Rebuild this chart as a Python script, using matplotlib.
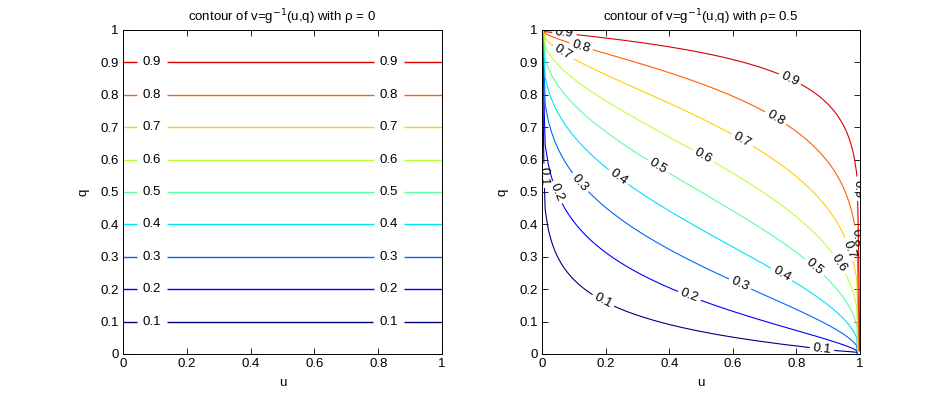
import numpy as np
import matplotlib
matplotlib.use("Agg")
import matplotlib.pyplot as plt
from statistics import NormalDist

plt.rcParams['font.family'] = ['Liberation Sans', 'DejaVu Sans']
plt.rcParams['font.size'] = 9.5

# ---- data / parameters ----
rhos = [0.0, 0.5]
levels = [0.1, 0.2, 0.3, 0.4, 0.5, 0.6, 0.7, 0.8, 0.9]
grid_u = np.linspace(0, 1, 101)
grid_q = np.linspace(0, 1, 101)
xticks = [0, 0.2, 0.4, 0.6, 0.8, 1]
yticks = [0, 0.1, 0.2, 0.3, 0.4, 0.5, 0.6, 0.7, 0.8, 0.9, 1]
titles = [r"contour of v=g$^{-1}$(u,q) with ρ = 0",
          r"contour of v=g$^{-1}$(u,q) with ρ= 0.5"]

# label positions (u, q) per level
labels_left = {lev: [(0.091, lev), (0.833, lev)] for lev in levels}
labels_right = {
    0.1: [(0.19, 0.16), (0.88, 0.012), (0.008, 0.55)],
    0.2: [(0.46, 0.17), (0.025, 0.49)],
    0.3: [(0.11, 0.52), (0.62, 0.21)],
    0.4: [(0.24, 0.545), (0.75, 0.24)],
    0.5: [(0.36, 0.57), (0.85, 0.26)],
    0.6: [(0.50, 0.60), (0.92, 0.27)],
    0.7: [(0.63, 0.66), (0.93, 0.31), (0.06, 0.92)],
    0.8: [(0.73, 0.72), (0.12, 0.94), (0.995, 0.36)],
    0.9: [(0.78, 0.85), (0.07, 0.985), (0.995, 0.51)],
}

nd = NormalDist()


def ninv(p):
    if p <= 0:
        return -np.inf
    if p >= 1:
        return np.inf
    return nd.inv_cdf(p)


def ncdf(x):
    if np.isnan(x):
        return np.nan
    return nd.cdf(x)


vninv = np.vectorize(ninv)
vncdf = np.vectorize(ncdf)


def g_inv(U, Q, rho):
    a = vninv(U)
    b = vninv(Q)
    with np.errstate(invalid='ignore'):
        term = np.zeros_like(a) if rho == 0 else rho * a
        return vncdf(term + np.sqrt(1 - rho ** 2) * b)


U, Q = np.meshgrid(grid_u, grid_q)
cmap = plt.get_cmap('jet')


def level_color(lev):
    t = (lev - levels[0]) / (levels[-1] - levels[0]) * 0.92
    return cmap(t)


fig = plt.figure(figsize=(9.5, 3.98), dpi=100)
positions = [[123 / 950, 44 / 398, 319 / 950, 324 / 398],
             [542 / 950, 44 / 398, 318 / 950, 324 / 398]]

for k, rho in enumerate(rhos):
    ax = fig.add_axes(positions[k])
    Z = np.ma.masked_invalid(g_inv(U, Q, rho))
    labs = labels_left if k == 0 else labels_right
    for lev in levels:
        cs = ax.contour(U, Q, Z, levels=[lev], colors=[level_color(lev)],
                        linewidths=1.0 if k == 0 else 0.8)
        ax.clabel(cs, levels=[lev], manual=labs[lev], inline=True,
                  inline_spacing=6 if k == 0 else 3, fontsize=9.5,
                  colors='black', fmt='%g')
    ax.set_xlim(0, 1)
    ax.set_ylim(0, 1)
    ax.set_xticks(xticks)
    ax.set_yticks(yticks)
    ax.set_xticklabels([f"{t:g}" for t in xticks])
    ax.set_yticklabels([f"{t:g}" for t in yticks])
    ax.tick_params(direction='in', length=4, width=0.6, top=True, right=True,
                   labelsize=9.5, pad=3)
    for s in ax.spines.values():
        s.set_linewidth(0.7)
    ax.set_title(titles[k], fontsize=9.5, pad=6)
    ax.set_xlabel('u', fontsize=9.5, labelpad=5)
    ax.set_ylabel('q', fontsize=9.5, labelpad=8)

fig.savefig('out.png', dpi=100)
